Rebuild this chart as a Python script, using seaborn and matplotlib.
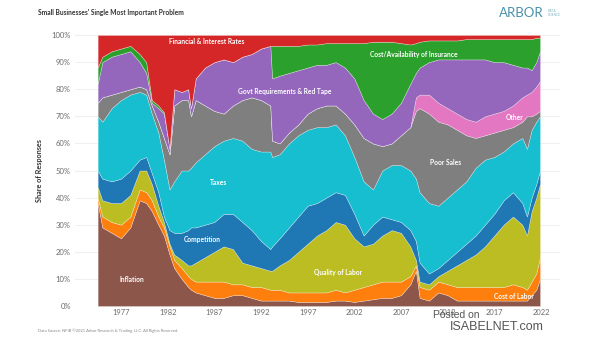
import numpy as np
import matplotlib
matplotlib.use("Agg")
import matplotlib.pyplot as plt
import seaborn as sns

# ---- data (share of responses, %) ----
years = [1974.5, 1975, 1976, 1977, 1978, 1979, 1979.7, 1980.3, 1981, 1981.6,
         1982.2, 1982.7, 1983.5, 1984.2, 1984.5, 1985, 1986, 1987, 1988, 1989,
         1990, 1991, 1992, 1993, 1993.2, 1994, 1995, 1996, 1997, 1998,
         1999, 2000, 2001, 2002, 2003, 2004, 2005, 2006, 2007, 2008,
         2008.6, 2009, 2010, 2011, 2012, 2013, 2014, 2015, 2016, 2017,
         2018, 2019, 2020, 2020.5, 2021, 2021.5, 2021.9]

inflation = [38, 29, 27, 25, 29, 39, 38, 35, 30, 26,
             19, 14, 10, 7, 6, 5, 4, 3, 3, 4,
             4, 3, 2, 2, 2, 2, 2, 1.5, 1.5, 1.5,
             1.5, 2, 2, 1.5, 2, 2.5, 3, 3, 4, 8,
             13, 3, 2, 5, 4, 2, 2, 2, 2, 2,
             2, 2, 2, 2, 4, 6, 10]
cost_of_labor = [2, 4, 4, 5, 4, 4, 4, 4, 3, 3,
                 3, 3, 4, 4, 4, 4, 5, 6, 6, 4,
                 4, 4, 5, 4, 4, 4, 3, 3.5, 3.5, 3.5,
                 3.5, 4, 3, 4.5, 5, 5.5, 6, 6, 5, 3,
                 2, 4, 4, 4, 4, 5, 5, 5, 5, 5,
                 5, 6, 5, 4, 5, 6, 8]
quality_of_labor = [4, 6, 7, 8, 8, 7, 8, 6, 4, 2,
                    1, 2, 3, 4, 5, 7, 9, 11, 13, 13,
                    8, 8, 7, 7, 7, 9, 12, 15, 18, 21,
                    23, 25, 25, 19, 15, 15, 17, 19, 18, 11,
                    2, 2, 2, 2, 5, 8, 10, 12, 15, 19,
                    23, 25, 23, 20, 26, 28, 27]
competition = [6, 8, 8, 9, 9, 4, 5, 4, 5, 2,
               5, 8, 10, 13, 14, 13, 12, 11, 12, 13,
               15, 13, 10, 8, 9, 10, 12, 13, 14, 12,
               12, 11, 11, 9, 4, 7, 7, 4, 4, 6,
               7, 7, 4, 3, 4, 5, 6, 7, 8, 8,
               9, 9, 8, 7, 5, 5, 5]
taxes = [20, 21, 27, 29, 28, 25, 23, 22, 22, 21,
         15, 19, 23, 22, 22, 24, 26, 28, 27, 28,
         30, 30, 33, 36, 33, 31, 31, 30, 28, 28,
         26, 25, 22, 21, 20, 13, 17, 20, 21, 22,
         23, 26, 26, 23, 23, 23, 23, 25, 24, 21,
         18, 18, 24, 25, 25, 23, 20]
poor_sales = [5, 9, 5, 3, 2, 2, 2, 3, 4, 8,
              13, 28, 26, 26, 19, 23, 18, 13, 10, 12,
              15, 19, 19, 17, 6, 4, 4, 4, 6, 7,
              8, 7, 8, 12, 16, 17, 9, 8, 11, 16,
              25, 31, 33, 31, 27, 22, 17, 11, 9, 9,
              8, 6, 6, 12, 5, 3, 2]
other = [0, 0, 0, 0, 0, 0, 0, 0, 0, 0,
         0, 0, 0, 0, 0, 0, 0, 0, 0, 0,
         0, 0, 0, 0, 0, 0, 0, 0, 0, 0,
         0, 0, 0, 0, 0, 0, 0, 0, 0, 0,
         5, 5, 7, 7, 6, 6, 6, 6, 7, 7,
         7, 8, 9, 8, 9, 10, 11]
govt_requirements = [7, 13, 14, 14, 14, 9, 6, 1, 5, 9,
                     2, 6, 3, 4, 3, 8, 14, 18, 20, 16,
                     16, 16, 19, 22, 23, 25, 22, 20, 17, 16,
                     15, 16, 17, 17, 14, 11, 10, 11, 12, 16,
                     9, 10, 12, 16, 18, 20, 22, 23, 21, 19,
                     18, 15, 11, 10, 8, 9, 11]
insurance = [6, 2, 2, 2, 2, 3, 4, 1, 1, 0.5,
             0, 0, 0, 0, 0, 0, 0, 0, 0, 0,
             0, 0, 0, 0, 12, 11, 10, 9, 8.5, 7.5,
             8, 7, 9, 13, 21, 26.5, 28.5, 26.5, 22, 14.5,
             11, 9.5, 8, 7, 7, 7, 7.5, 7.5, 7.5, 8.5,
             8.5, 9.5, 10.5, 10.5, 11.5, 9, 5]
financial = [12, 8, 6, 5, 4, 7, 10, 24, 26, 28.5,
             42, 20, 21, 20, 27, 16, 12, 10, 9, 10,
             8, 7, 5, 4, 4, 4, 4, 4, 3.5, 3.5,
             3, 3, 3, 3, 3, 2.5, 2.5, 2.5, 3, 3.5,
             3, 2.5, 2, 2, 2, 2, 1.5, 1.5, 1.5, 1.5,
             1.5, 1.5, 1.5, 1.5, 1.5, 1, 1]

series_names = ["Inflation", "Cost of Labor", "Quality of Labor", "Competition",
                "Taxes", "Poor Sales", "Other", "Govt Requirements & Red Tape",
                "Cost/Availability of Insurance", "Financial & Interest Rates"]

tick_years = [1977, 1982, 1987, 1992, 1997, 2002, 2007, 2012, 2017, 2022]
y_ticks = [0, 10, 20, 30, 40, 50, 60, 70, 80, 90, 100]

# label positions (year, %) for in-chart annotations
label_pos = {
    "Financial & Interest Rates": (1986.2, 97.6),
    "Cost/Availability of Insurance": (2008.4, 92.8),
    "Govt Requirements & Red Tape": (1994.5, 79.3),
    "Taxes": (1987.4, 45.4),
    "Competition": (1985.7, 24.7),
    "Inflation": (1978.2, 9.6),
    "Quality of Labor": (2000.3, 12.2),
    "Poor Sales": (2011.8, 52.8),
    "Other": (2019.2, 69.4),
    "Cost of Labor": (2019.1, 3.4),
}

# ---- style ----
sns.set_theme(style="white")
plt.rcParams['font.family'] = ['Lato', 'DejaVu Sans']

pal = sns.color_palette("tab10")
# tab10: 0 blue,1 orange,2 green,3 red,4 purple,5 brown,6 pink,7 gray,8 olive,9 cyan
colors = [pal[5], pal[1], pal[8], pal[0], pal[9], pal[7], pal[6], pal[4], pal[2], pal[3]]

fig = plt.figure(figsize=(6.05, 3.41), dpi=100)
ax = fig.add_axes([75 / 605, 35 / 341, 485 / 605, 271 / 341])

ax.stackplot(years, inflation, cost_of_labor, quality_of_labor, competition,
             taxes, poor_sales, other, govt_requirements, insurance, financial,
             colors=colors, labels=series_names,
             edgecolor=(1, 1, 1, 0.45), linewidth=0.4)

ax.set_xlim(1972.07, 2024.04)
ax.set_ylim(0, 100)
ax.set_yticks(y_ticks)
ax.set_yticklabels([f"{v}%" for v in y_ticks])
ax.set_xticks(tick_years)
ax.set_xticklabels([str(y) for y in tick_years])
ax.grid(axis='y', color='#ececec', linewidth=0.6)
ax.grid(axis='x', visible=False)
ax.set_axisbelow(True)
for s in ax.spines.values():
    s.set_visible(False)
ax.tick_params(axis='both', length=0, colors='#6b6b6b')
ax.tick_params(axis='y', labelsize=5.5, pad=3)
ax.tick_params(axis='x', labelsize=5.4, pad=2)
ax.set_ylabel("Share of Responses", fontsize=5.2, color='#333333',
              fontweight='bold', labelpad=6)

for name, (xv, yv) in label_pos.items():
    ax.text(xv, yv, name, color='white', fontsize=4.8, fontweight='bold',
            ha='center', va='center')

# title, logo, footer
fig.text(38 / 605, 1 - 13 / 341, "Small Businesses' Single Most Important Problem",
         fontsize=4.8, color='#333333', fontweight='bold', va='center', ha='left')
fig.text(499 / 605, 1 - 13 / 341, "ARBOR", fontsize=9.5, color='#4a92aa',
         va='center', ha='left')
fig.text(548 / 605, 1 - 13 / 341, "DATA\nSCIENCE", fontsize=2.3, color='#7fb3c4',
         va='center', ha='left', linespacing=1.1)
fig.text(38 / 605, 1 - 331 / 341,
         "Data Source: NFIB \u00a92021 Arbor Research & Trading, LLC. All Rights Reserved.",
         fontsize=3.0, color='#888888', va='center', ha='left')

# watermark
fig.text(456 / 605, 1 - 315 / 341, "Posted on", fontsize=7.5, color='#555555',
         va='center', ha='center', family=['Liberation Sans', 'DejaVu Sans'])
fig.text(497 / 605, 1 - 327 / 341, "ISABELNET.com", fontsize=9, color='#555555',
         va='center', ha='center', family=['Liberation Sans', 'DejaVu Sans'])

fig.savefig("out.png", dpi=100)
